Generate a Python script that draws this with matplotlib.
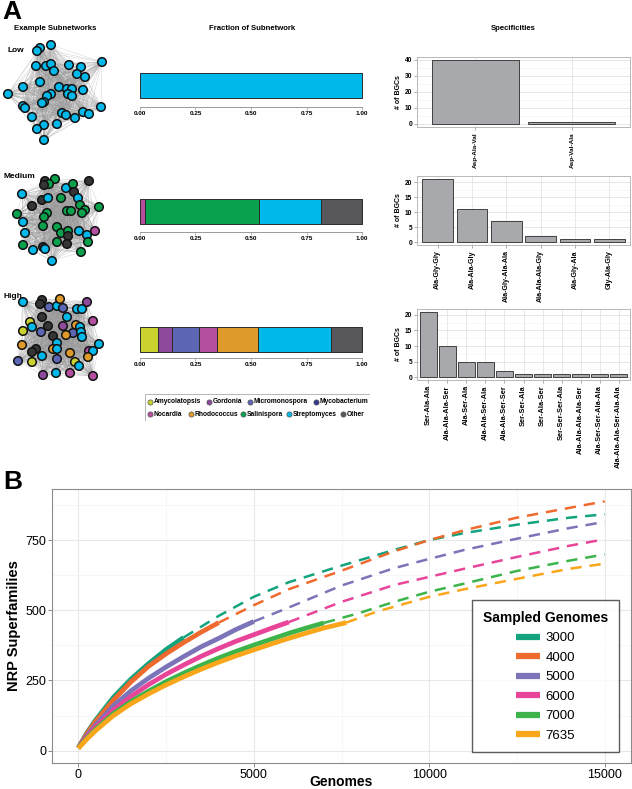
import itertools
import matplotlib.pyplot as plt
import numpy as np
from matplotlib.collections import LineCollection
from matplotlib.lines import Line2D
from matplotlib.patches import Rectangle

plt.rcParams["font.family"] = ["Liberation Sans", "DejaVu Sans"]

W, H = 632, 789

# ---- data ---------------------------------------------------------------
GENERA = ["Amycolatopsis", "Gordonia", "Micromonospora", "Mycobacterium",
          "Nocardia", "Rhodococcus", "Salinispora", "Streptomyces", "Other"]
GENUS_CODES = ["Y", "V", "P", "B", "M", "O", "G", "C", "K"]
GENUS_COLORS = ["#c9d22e", "#8d4a9d", "#5d66b4", "#2f3590",
                "#b44fa0", "#de9a2a", "#0aa14c", "#00b8ea", "#58585a"]
NODE_OTHER = "#353537"

# network layouts (node positions, pixel units)
LOW_X = [40, 37, 51, 102, 36, 46, 51, 54, 69, 81, 77, 85, 40, 23, 59, 67, 72, 83, 51,
         47, 68, 72, 8, 44, 42, 23, 25, 101, 62, 66, 75, 83, 89, 32, 57, 44, 37, 44]
LOW_Y = [48, 51, 45, 62, 66, 66, 64, 71, 65, 67, 74, 77, 82, 87, 87, 89, 89, 90, 94,
         96, 94, 96, 94, 102, 103, 106, 108, 107, 113, 115, 118, 112, 114, 117, 124,
         125, 129, 140]
LOW_G = "C" * 38

MED_X = [45, 55, 49, 44, 89, 66, 73, 74, 22, 42, 48, 61, 78, 32, 80, 85, 82, 99, 47, 44,
         67, 71, 17, 23, 43, 57, 61, 68, 68, 79, 87, 95, 88, 25, 57, 67, 23, 33, 43, 45,
         81, 52]
MED_Y = [181, 179, 184, 185, 181, 188, 184, 192, 194, 200, 198, 198, 198, 206, 205, 210,
         213, 207, 213, 217, 211, 211, 214, 222, 226, 227, 233, 231, 236, 231, 235, 231,
         242, 233, 242, 244, 245, 250, 247, 249, 252, 261]
MED_G = "KGGKKCGKCKCGCKGGGGGGGGGCGGGGKCCMGCGKGCKCGC"

HIGH_X = [23, 42, 40, 49, 57, 60, 63, 77, 82, 87, 67, 42, 30, 93, 32, 48, 63, 76, 80, 23,
          41, 73, 81, 82, 66, 53, 57, 99, 22, 53, 57, 36, 32, 70, 42, 89, 93, 88, 18, 32,
          57, 75, 79, 43, 56, 70, 93]
HIGH_Y = [302, 300, 304, 307, 306, 299, 308, 309, 309, 302, 317, 317, 322, 321, 327, 326,
          326, 325, 327, 331, 332, 333, 332, 337, 335, 336, 343, 344, 345, 349, 349, 349,
          352, 353, 356, 351, 351, 357, 361, 362, 359, 362, 366, 375, 373, 373, 376]
HIGH_G = "CKKPCOPCCVCKYMCKVOCYPPCCOKCCOOCKKOCMCOPYPYCVCMM"

# fraction of subnetwork
LOW_FRAC = {"Streptomyces": 1.0}
MED_FRAC = {"Nocardia": 0.025, "Salinispora": 0.511, "Streptomyces": 0.281, "Other": 0.183}
HIGH_FRAC = {"Amycolatopsis": 0.080, "Gordonia": 0.065, "Micromonospora": 0.122,
             "Nocardia": 0.081, "Rhodococcus": 0.183, "Streptomyces": 0.328, "Other": 0.141}
FRAC_TICKS = [0.0, 0.25, 0.5, 0.75, 1.0]

# specificities
LOW_SPEC = ["Asp-Ala-Val", "Asp-Val-Ala"]
LOW_COUNTS = [40, 1]
MED_SPEC = ["Ala-Gly-Gly", "Ala-Ala-Gly", "Ala-Gly-Ala-Ala", "Ala-Ala-Ala-Gly",
            "Ala-Gly-Ala", "Gly-Ala-Gly"]
MED_COUNTS = [21, 11, 7, 2, 1, 1]
HIGH_SPEC = ["Ser-Ala-Ala", "Ala-Ala-Ala-Ser", "Ala-Ser-Ala", "Ala-Ala-Ser-Ala",
             "Ala-Ala-Ser-Ser", "Ser-Ser-Ala", "Ser-Ala-Ser", "Ser-Ser-Ser-Ala",
             "Ala-Ala-Ala-Ala-Ser", "Ala-Ser-Ser-Ala-Ala", "Ala-Ala-Ala-Ser-Ala-Ala"]
HIGH_COUNTS = [21, 10, 5, 5, 2, 1, 1, 1, 1, 1, 1]

# panel B: rarefaction (observed) and extrapolation
SAMPLED = ["3000", "4000", "5000", "6000", "7000", "7635"]
SERIES_COLORS = ["#14a37f", "#ef6a2d", "#7b74b8", "#e8449a", "#3cb44b", "#f9a61a"]
OBS_X = [
    [0, 250, 500, 1000, 1500, 2000, 2500, 3000],
    [0, 250, 500, 1000, 1500, 2000, 2500, 3000, 3500, 4000],
    [0, 250, 500, 1000, 1500, 2000, 2500, 3000, 3500, 4000, 4500, 5000],
    [0, 250, 500, 1000, 1500, 2000, 2500, 3000, 3500, 4000, 4500, 5000, 5500, 6000],
    [0, 250, 500, 1000, 1500, 2000, 2500, 3000, 3500, 4000, 4500, 5000, 5500, 6000,
     6500, 7000],
    [0, 250, 500, 1000, 1500, 2000, 2500, 3000, 3500, 4000, 4500, 5000, 5500, 6000,
     6500, 7000, 7635],
]
OBS_Y = [
    [10, 65, 110, 190, 255, 310, 360, 403],
    [10, 62, 105, 180, 245, 300, 345, 385, 422, 456],
    [10, 55, 92, 160, 213, 258, 298, 335, 370, 400, 432, 460],
    [10, 50, 85, 145, 193, 235, 272, 305, 336, 364, 390, 413, 436, 458],
    [10, 45, 77, 132, 175, 212, 246, 276, 304, 330, 354, 376, 397, 418, 437, 455],
    [8, 42, 72, 125, 167, 202, 234, 263, 290, 315, 338, 359, 380, 400, 419, 437, 456],
]
EXT_X = [
    [3000, 4000, 5000, 6000, 7500, 9000, 10000, 11000, 12500, 14000, 15000],
    [4000, 5000, 6000, 7500, 9000, 10000, 11000, 12500, 14000, 15000],
    [5000, 6000, 7500, 9000, 10000, 11000, 12500, 14000, 15000],
    [6000, 7500, 9000, 10000, 11000, 12500, 14000, 15000],
    [7000, 8000, 9000, 10000, 11000, 12500, 14000, 15000],
    [7635, 8500, 10000, 11000, 12500, 14000, 15000],
]
EXT_Y = [
    [403, 480, 548, 600, 659, 715, 750, 775, 805, 830, 842],
    [456, 518, 575, 641, 710, 750, 785, 830, 865, 888],
    [460, 510, 588, 650, 683, 715, 755, 793, 815],
    [458, 530, 590, 619, 648, 690, 730, 753],
    [455, 490, 530, 566, 595, 640, 677, 699],
    [456, 495, 548, 575, 612, 648, 666],
]


def px_rect(x0, y0, x1, y1):
    return [x0 / W, 1 - y1 / H, (x1 - x0) / W, (y1 - y0) / H]


def color_of(code, node=False):
    if node and code == "K":
        return NODE_OTHER
    return GENUS_COLORS[GENUS_CODES.index(code)]


fig = plt.figure(figsize=(W / 100, H / 100), dpi=100)

fig.text(2 / W, 1 - 0 / H, "A", fontsize=19, weight="bold", va="top")
fig.text(3 / W, 1 - 470 / H, "B", fontsize=19, weight="bold", va="top")
fig.text(55 / W, 1 - 28 / H, "Example Subnetworks", fontsize=5.6, weight="bold",
         ha="center", va="center")
fig.text(252 / W, 1 - 28 / H, "Fraction of Subnetwork", fontsize=5.6, weight="bold",
         ha="center", va="center")
fig.text(513 / W, 1 - 28 / H, "Specificities", fontsize=5.6, weight="bold",
         ha="center", va="center")

# ---- networks -----------------------------------------------------------
ax_net = fig.add_axes(px_rect(0, 35, 130, 395))
ax_net.set_xlim(0, 130)
ax_net.set_ylim(395, 35)
ax_net.axis("off")
for xs, ys, gs, name, lab_y in [(LOW_X, LOW_Y, LOW_G, "Low", 50),
                                (MED_X, MED_Y, MED_G, "Medium", 177),
                                (HIGH_X, HIGH_Y, HIGH_G, "High", 297)]:
    pts = list(zip(xs, ys))
    segs = [[a, b] for a, b in itertools.combinations(pts, 2)]
    ax_net.add_collection(LineCollection(segs, colors="#9a9a9a", linewidths=0.3,
                                         alpha=0.5, zorder=1))
    ax_net.scatter(xs, ys, s=38, c=[color_of(g, True) for g in gs],
                   edgecolors="#111111", linewidths=1.1, zorder=3)
    ax_net.text(3 if name != "Low" else 8, lab_y, name, fontsize=6, weight="bold",
                va="center", zorder=4)

# ---- fraction bars ------------------------------------------------------
for frac, (bar_top, bar_bot, axis_px) in [(LOW_FRAC, (73, 98, 107)),
                                          (MED_FRAC, (199, 224, 232)),
                                          (HIGH_FRAC, (327, 352, 358))]:
    ax = fig.add_axes(px_rect(139, bar_top - 3, 363, axis_px))
    span = axis_px - (bar_top - 3)
    left = 0.0
    for genus, val in frac.items():
        ax.barh((axis_px - bar_bot) / span, val, left=left, height=(bar_bot - bar_top) / span,
                align="edge", color=GENUS_COLORS[GENERA.index(genus)],
                edgecolor="#2b2b2b", linewidth=0.7)
        left += val
    ax.set_xlim(-0.004, 1.004)
    ax.set_ylim(0, 1)
    for s in ["top", "left", "right"]:
        ax.spines[s].set_visible(False)
    ax.spines["bottom"].set_color("#9a9a9a")
    ax.spines["bottom"].set_linewidth(0.7)
    ax.spines["bottom"].set_bounds(0, 1)
    ax.set_yticks([])
    ax.set_xticks(FRAC_TICKS)
    ax.set_xticklabels([f"{t:.2f}" for t in FRAC_TICKS], fontsize=4.6, weight="bold")
    ax.tick_params(axis="x", length=2, width=0.5, color="#9a9a9a", pad=1)

# fraction legend
ax_leg = fig.add_axes(px_rect(144, 393, 370, 421))
ax_leg.set_xlim(144, 370)
ax_leg.set_ylim(421, 393)
ax_leg.axis("off")
ax_leg.add_patch(Rectangle((144.5, 393.5), 225, 27, fill=False, edgecolor="#b5b5b5",
                           linewidth=0.7))
legend_rows = [(401.7, [150, 209, 250, 316], GENERA[:4]),
               (414.0, [150, 191, 243, 289, 343], GENERA[4:])]
for y, xs, names in legend_rows:
    for x, name in zip(xs, names):
        ax_leg.scatter([x], [y], s=14, color=GENUS_COLORS[GENERA.index(name)],
                       edgecolors="#555555", linewidths=0.5)
        ax_leg.text(x + 3.5, y, name, fontsize=4.8, weight="bold", va="center")

# ---- specificities ------------------------------------------------------
spec_panels = [(LOW_SPEC, LOW_COUNTS, 40, [0, 10, 20, 30, 40], (56.8, 127.2), 4.6),
               (MED_SPEC, MED_COUNTS, 21, [0, 5, 10, 15, 20], (175.9, 245.2), 5.1),
               (HIGH_SPEC, HIGH_COUNTS, 21, [0, 5, 10, 15, 20], (308.6, 380.3), 5.3)]
for labels, counts, ymax, yticks, (top, bot), lab_fs in spec_panels:
    ax = fig.add_axes(px_rect(417, top, 630, bot))
    pos = np.arange(1, len(labels) + 1)
    ax.bar(pos, counts, width=0.9, color="#a7a9ac", edgecolor="#404040",
           linewidth=0.7, zorder=3)
    ax.set_xlim(0.4, len(labels) + 0.6)
    ax.set_ylim(-0.05 * ymax, 1.05 * ymax)
    ax.set_yticks(yticks)
    ax.set_yticks(np.array(yticks[:-1]) + (yticks[1] - yticks[0]) / 2, minor=True)
    ax.set_yticklabels([str(t) for t in yticks], fontsize=4.8, weight="bold")
    ax.set_xticks(pos)
    ax.set_xticklabels(labels, rotation=90, fontsize=lab_fs, weight="bold", ha="center",
                       va="top")
    ax.grid(True, which="major", color="#e3e3e3", linewidth=0.6, zorder=0)
    ax.grid(True, which="minor", axis="y", color="#f1f1f1", linewidth=0.4, zorder=0)
    ax.set_axisbelow(True)
    ax.tick_params(length=2, width=0.5, color="#8a8a8a", pad=1.5)
    ax.tick_params(which="minor", length=0)
    for s in ax.spines.values():
        s.set_color("#b8b8b8")
        s.set_linewidth(0.7)
    ax.set_ylabel("# of BGCs", fontsize=5, weight="bold", labelpad=2)

# ---- panel B ------------------------------------------------------------
axb = fig.add_axes(px_rect(52, 489, 631, 763))
handles = []
for name, col, ox, oy, ex, ey in zip(SAMPLED, SERIES_COLORS, OBS_X, OBS_Y, EXT_X, EXT_Y):
    axb.plot(ex, ey, color=col, linewidth=1.8, dashes=(4.5, 3.2), zorder=2)
    axb.plot(ox, oy, color=col, linewidth=3.4, solid_capstyle="butt", zorder=3)
    handles.append(Line2D([], [], color=col, linewidth=4.5, solid_capstyle="butt"))
axb.set_xlim(-750, 15750)
axb.set_ylim(-44, 932)
axb.set_xticks([0, 5000, 10000, 15000])
axb.set_xticks([2500, 7500, 12500], minor=True)
axb.set_yticks([0, 250, 500, 750])
axb.set_yticks([125, 375, 625, 875], minor=True)
axb.tick_params(labelsize=9, length=3, width=0.7, color="#8a8a8a", pad=1)
axb.tick_params(which="minor", length=0)
axb.grid(True, which="major", color="#e8e8e8", linewidth=0.8, zorder=0)
axb.grid(True, which="minor", color="#f3f3f3", linewidth=0.5, zorder=0)
axb.set_axisbelow(True)
for s in axb.spines.values():
    s.set_color("#8c8c8c")
    s.set_linewidth(0.8)
axb.set_xlabel("Genomes", fontsize=10, weight="bold", labelpad=-4)
axb.set_ylabel("NRP Superfamilies", fontsize=10.5, weight="bold", labelpad=3)
leg = axb.legend(handles, SAMPLED, title="Sampled Genomes", loc="lower right",
                 bbox_to_anchor=(0.99, 0.015), fontsize=9.5, frameon=True,
                 fancybox=False, edgecolor="#333333", handlelength=1.8,
                 labelspacing=0.55, borderpad=0.8, handletextpad=0.4)
leg.get_title().set_fontweight("bold")
leg.get_title().set_fontsize(10)
leg.get_frame().set_linewidth(1.0)

fig.savefig("out.png", dpi=100)
